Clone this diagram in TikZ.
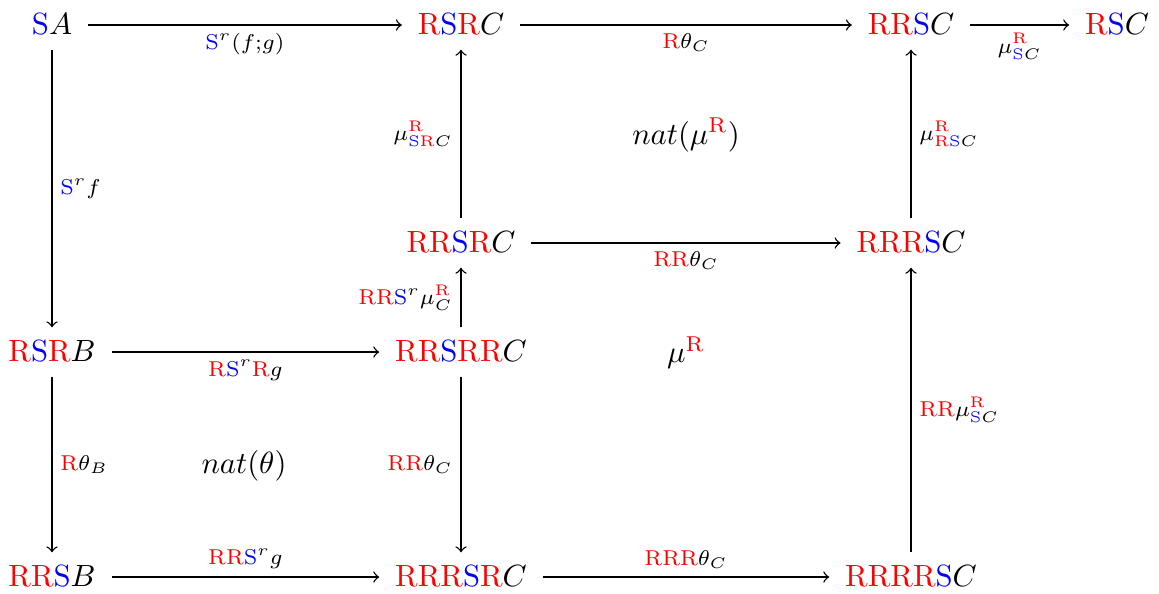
\documentclass[tikz,border=0pt]{standalone}
\usepackage{amsmath}
\newcommand{\cR}{\textcolor{red}{\mathrm{R}}}
\newcommand{\cS}{\textcolor{blue}{\mathrm{S}}}
\begin{document}
\begin{tikzpicture}[x=0.3257pt, y=-0.3257pt,
  obj/.style={inner xsep=5pt, inner ysep=4.6pt, text height=6.5pt, text depth=0pt},
  arr/.style={->, line width=0.45pt},
  lab/.style={font=\scriptsize, inner sep=2.5pt},
  cell/.style={inner sep=0pt}]
\useasboundingbox (0,0) rectangle (1159,593);
% objects
\node[obj] (SA)     at (52,25)   {$\cS A$};
\node[obj] (RSRC)   at (461,25)  {$\cR\cS\cR C$};
\node[obj] (RRSC)   at (911,25)  {$\cR\cR\cS C$};
\node[obj] (RSC)    at (1117,25) {$\cR\cS C$};
\node[obj] (RRSRC)  at (461,243) {$\cR\cR\cS\cR C$};
\node[obj] (RRRSC)  at (911,243) {$\cR\cR\cR\cS C$};
\node[obj] (RSRB)   at (52,352)  {$\cR\cS\cR B$};
\node[obj] (RRSRRC) at (461,352) {$\cR\cR\cS\cR\cR C$};
\node[obj] (RRSB)   at (52,577)  {$\cR\cR\cS B$};
\node[obj] (RRRSRC) at (461,577) {$\cR\cR\cR\cS\cR C$};
\node[obj] (RRRRSC) at (911,577) {$\cR\cR\cR\cR\cS C$};
% arrows
\draw[arr] (SA) -- node[lab, below] {$\cS^r(f{;}g)$} (RSRC);
\draw[arr] (RSRC) -- node[lab, below] {$\cR\theta_C$} (RRSC);
\draw[arr] (RRSC) -- node[lab, below] {$\mu^{\cR}_{\cS C}$} (RSC);
\draw[arr] (SA) -- node[lab, right] {$\cS^r f$} (RSRB);
\draw[arr] (RRSRC) -- node[lab, left] {$\mu^{\cR}_{\cS\cR C}$} (RSRC);
\draw[arr] (RRRSC) -- node[lab, right] {$\mu^{\cR}_{\cR\cS C}$} (RRSC);
\draw[arr] (RRSRC) -- node[lab, below] {$\cR\cR\theta_C$} (RRRSC);
\draw[arr] (RRSRRC) -- node[lab, left] {$\cR\cR\cS^r\mu^{\cR}_C$} (RRSRC);
\draw[arr] (RSRB) -- node[lab, below] {$\cR\cS^r\cR g$} (RRSRRC);
\draw[arr] (RRRRSC) -- node[lab, right] {$\cR\cR\mu^{\cR}_{\cS C}$} (RRRSC);
\draw[arr] (RSRB) -- node[lab, right] {$\cR\theta_B$} (RRSB);
\draw[arr] (RRSRRC) -- node[lab, left] {$\cR\cR\theta_C$} (RRRSRC);
\draw[arr] (RRSB) -- node[lab, above] {$\cR\cR\cS^r g$} (RRRSRC);
\draw[arr] (RRRSRC) -- node[lab, above] {$\cR\cR\cR\theta_C$} (RRRRSC);
% cell labels
\node[cell] (c1) at (686,135) {$nat(\mu^{\cR})$};
\node[cell] (c2) at (686,353) {$\mu^{\cR}$};
\node[cell] (c3) at (244,466) {$nat(\theta)$};
\end{tikzpicture}
\end{document}
